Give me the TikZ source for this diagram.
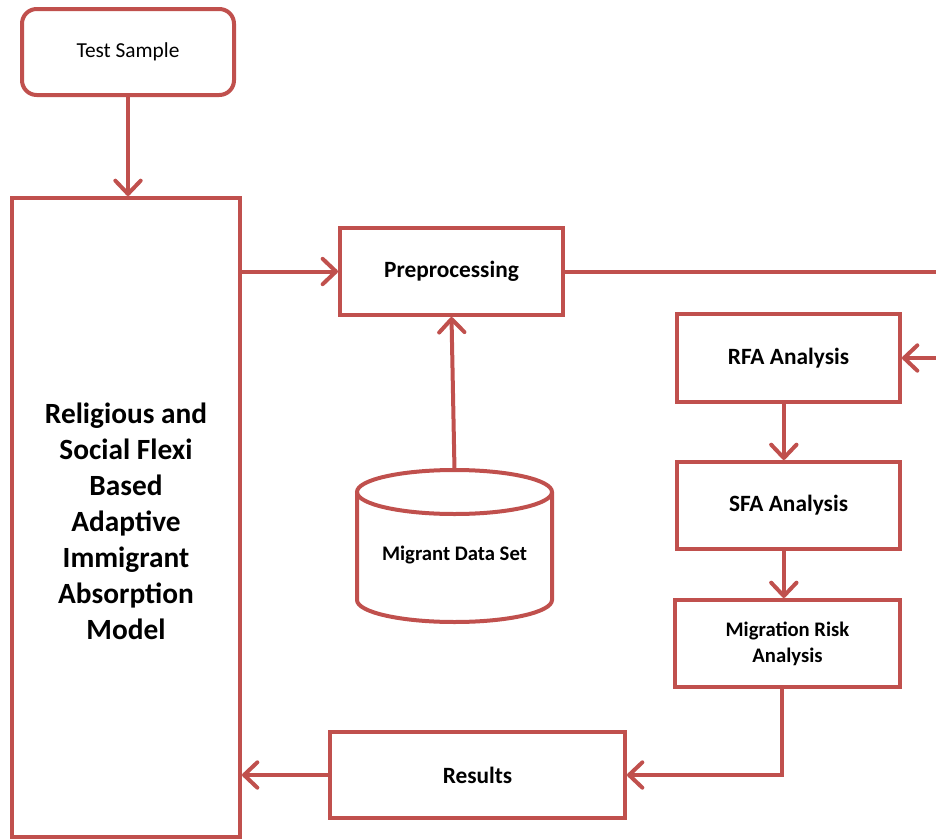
\documentclass[tikz,border=0pt]{standalone}
\usepackage{fontspec}
\setmainfont{Carlito}
\usetikzlibrary{arrows.meta}
\definecolor{acc}{HTML}{C0504D}
\begin{document}
\begin{tikzpicture}[x=0.75pt,y=-0.75pt,
  box/.style={draw=acc, line width=3pt, fill=white, align=center, inner sep=2pt},
  conn/.style={draw=acc, line width=3pt, -{Straight Barb[length=10pt,width=19pt,line cap=round,line join=round]}},
  line/.style={draw=acc, line width=3pt}]
\useasboundingbox (0,0) rectangle (936,839);
\node[box, rounded corners=11pt, minimum width=159pt, minimum height=64.5pt, font=\fontsize{16}{19}\selectfont] (ts) at (128,52) {Test Sample};
\node[box, minimum width=171pt, minimum height=479.25pt] (model) at (126,517.5) {};
\node[font=\fontsize{22}{27}\selectfont\bfseries, align=center] (modeltext) at (126,521) {Religious and\\Social Flexi\\Based\\Adaptive\\Immigrant\\Absorption\\Model};
\node[box, minimum width=167.25pt, minimum height=65.25pt, font=\fontsize{17.5}{20}\selectfont\bfseries] (pre) at (451.5,271.5) {Preprocessing};
\node[box, minimum width=167.25pt, minimum height=66pt, font=\fontsize{17.5}{20}\selectfont\bfseries] (rfa) at (788.5,358) {RFA Analysis};
\node[box, minimum width=167.25pt, minimum height=65.25pt, font=\fontsize{17.5}{20}\selectfont\bfseries] (sfa) at (788.5,505.5) {SFA Analysis};
\node[box, minimum width=168.75pt, minimum height=65.25pt, font=\fontsize{15.5}{19.5}\selectfont\bfseries] (mra) at (787.5,643.5) {Migration Risk\\Analysis};
\node[box, minimum width=221.25pt, minimum height=64.5pt, font=\fontsize{17.5}{20}\selectfont\bfseries] (res) at (477.5,775) {Results};
% cylinder
\draw[line, fill=white] (357,492) -- (357,600) arc[start angle=180, end angle=0, x radius=97.5, y radius=22] -- (552,492);
\draw[line] (454.5,492) ellipse[x radius=97.5, y radius=22];
\coordinate (dbtop) at (454.5,470);
\node[font=\fontsize{15.5}{18}\selectfont\bfseries] (db) at (454.5,555) {Migrant Data Set};
\coordinate (rout) at (937,271.5);
\coordinate (rin) at (937,358);
\coordinate (c1) at ([xshift=-3.5pt]rfa.south);
\coordinate (c2) at ([xshift=-3.5pt]sfa.south);
\coordinate (c3) at ([xshift=-4pt]mra.south);
\coordinate (turn) at (c3 |- res.east);
% connectors
\draw[conn] (ts.south) -- (ts.south |- model.north);
\draw[conn] (model.east |- pre.west) -- (pre.west);
\draw[conn] (dbtop) -- (pre.south);
\draw[line] (pre.east) -- (rout);
\draw[conn] (rin) -- (rfa.east);
\draw[conn] (c1) -- (c1 |- sfa.north);
\draw[conn] (c2) -- (c2 |- mra.north);
\draw[conn] (c3) -- (turn) -- (res.east);
\draw[conn] (res.west) -- (model.east |- res.west);
\end{tikzpicture}
\end{document}
